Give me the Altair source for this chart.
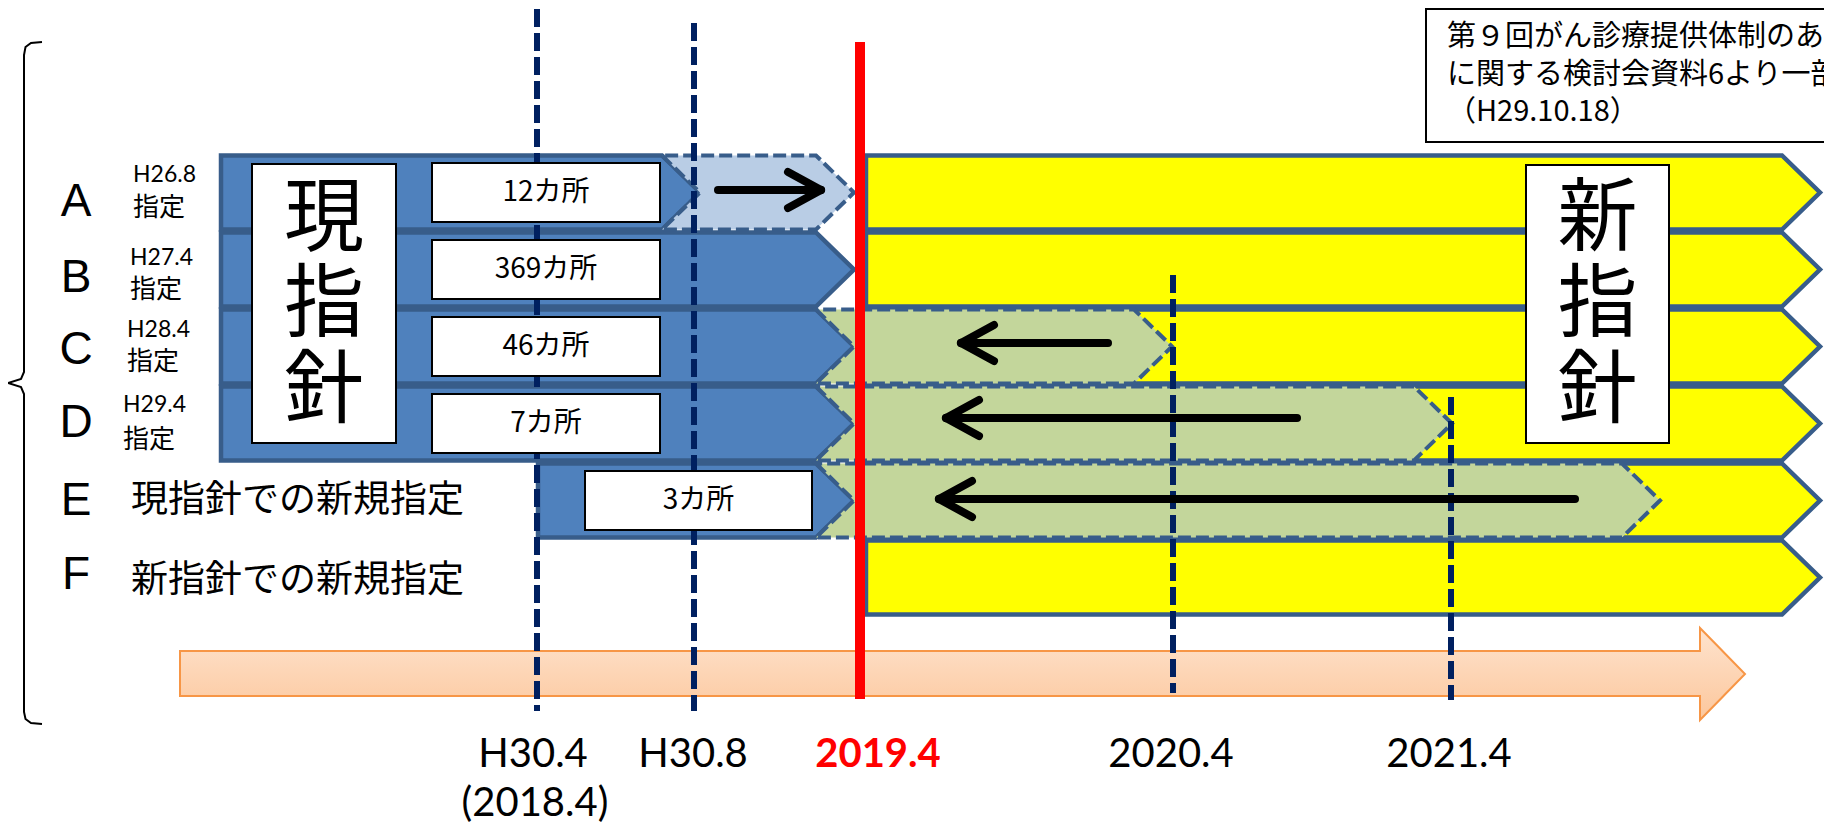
import altair as alt
import pandas as pd

# ---------------- chart content ----------------
ROW_LETTERS = ["A", "B", "C", "D", "E", "F"]
DESIGNATED = ["H26.8", "H27.4", "H28.4", "H29.4"]          # rows A-D
DESIGNATED_WORD = "指定"
NEW_ROW_LABELS = ["現指針での新規指定", "新指針での新規指定"]  # rows E, F
COUNTS = ["12カ所", "369カ所", "46カ所", "7カ所", "3カ所"]     # rows A-E
OLD_GUIDE = ["現", "指", "針"]
NEW_GUIDE = ["新", "指", "針"]
MILESTONES = ["H30.4", "H30.8", "2019.4", "2020.4", "2021.4"]
MILESTONE_NOTE = "(2018.4)"
SOURCE_NOTE = ["第９回がん診療提供体制のあり方", "に関する検討会資料6より一部改変", "（H29.10.18）"]

# ---------------- layout (schematic coordinates) ----------------
W, H = 1816, 820
XS = alt.Scale(domain=[8, 8 + W], nice=False, zero=False)
YS = alt.Scale(domain=[8, 8 + H], nice=False, zero=False, reverse=True)

MS_X = [537, 694, 860, 1173, 1451]       # timeline position of each milestone
MS_LABEL_X = [533, 693, 878, 1171, 1449]
ROW_TOP0, PITCH, TIP, INSET = 154, 77, 38, 1.5


def top(i):
    return ROW_TOP0 + PITCH * i


def mid(i):
    return top(i) + PITCH / 2


# (row, style, left, right corner, notched left side)
SEGMENTS = (
    [(i, "yellow", 866, 1782, False) for i in range(6)]
    + [(0, "blue", 221, 662, False), (1, "blue", 221, 816, False),
       (2, "blue", 221, 816, False), (3, "blue", 221, 816, False),
       (4, "blue", 538, 816, False)]
    + [(0, "light", 662, 816, True)]
    + [(2, "green", 816, 1134, True), (3, "green", 816, 1414, True),
       (4, "green", 816, 1622, True)]
)

pts = []
for k, (r, style, l, rc, notch) in enumerate(SEGMENTS):
    pts.append(dict(sid=k, style=style, y=top(r) + INSET, x=l, x2=rc))
    pts.append(dict(sid=k, style=style, y=mid(r), x=l + (TIP if notch else 0), x2=rc + TIP))
    pts.append(dict(sid=k, style=style, y=top(r) + PITCH - INSET, x=l, x2=rc))
shape_df = pd.DataFrame(pts)


def xq(field="x"):
    return alt.X(f"{field}:Q", scale=XS, axis=None, stack=None)


def yq(field="y"):
    return alt.Y(f"{field}:Q", scale=YS, axis=None, stack=None)


def area_layer(style, fill, dash=None, sw=4):
    kw = dict(orient="horizontal", fill=fill, stroke="#385d8a", strokeWidth=sw, opacity=1)
    if dash:
        kw["strokeDash"] = dash
    return alt.Chart(shape_df[shape_df["style"] == style]).mark_area(**kw).encode(
        x=xq(), x2="x2:Q", y=yq(), detail="sid:N")


yellow = area_layer("yellow", "#ffff00", sw=4.5)
blue = area_layer("blue", "#4f81bd", sw=4.5)
light = area_layer("light", "#b9cde5", dash=[13, 5], sw=4)
green = area_layer("green", "#c3d69b", dash=[13, 5], sw=4)

# big orange timeline arrow
AR_L, AR_BODY_END, AR_TIP = 180, 1700, 1745
AR_T, AR_B, AR_HT, AR_HB = 651, 696, 628, 720
AR_MID = (AR_HT + AR_HB) / 2


def head_x(y):
    return AR_BODY_END + (AR_TIP - AR_BODY_END) * (1 - abs(y - AR_MID) / (AR_MID - AR_HT))


arrow_df = pd.DataFrame([
    dict(y=AR_HT, x=AR_BODY_END, x2=AR_BODY_END),
    dict(y=AR_T, x=AR_BODY_END, x2=head_x(AR_T)),
    dict(y=AR_T + 0.001, x=AR_L, x2=head_x(AR_T)),
    dict(y=AR_MID, x=AR_L, x2=AR_TIP),
    dict(y=AR_B, x=AR_L, x2=head_x(AR_B)),
    dict(y=AR_B + 0.001, x=AR_BODY_END, x2=head_x(AR_B)),
    dict(y=AR_HB, x=AR_BODY_END, x2=AR_BODY_END),
])
orange = alt.Chart(arrow_df).mark_area(
    orient="horizontal", stroke="#f79646", strokeWidth=2,
    fill=alt.Gradient(gradient="linear", x1=0, x2=0, y1=0, y2=1,
                      stops=[alt.GradientStop(offset=0, color="#fee3ce"),
                             alt.GradientStop(offset=1, color="#fcc79c")]),
).encode(x=xq(), x2="x2:Q", y=yq())

# dashed milestone lines
dash_df = pd.DataFrame(dict(
    x=[MS_X[0], MS_X[1], MS_X[3], MS_X[4]],
    y=[9, 23, 275, 397],
    y2=[711, 711, 693, 700],
))
dashed = alt.Chart(dash_df).mark_rule(
    color="#002060", strokeWidth=6, strokeDash=[18, 6]
).encode(x=xq(), y=yq(), y2="y2:Q")

red_df = pd.DataFrame(dict(x=[MS_X[2]], y=[42], y2=[699]))
red = alt.Chart(red_df).mark_rule(color="#ff0000", strokeWidth=10).encode(
    x=xq(), y=yq(), y2="y2:Q")

# white boxes
box_rows = []
for i, c in enumerate(COUNTS):
    l, r = (432, 660) if i < 4 else (585, 812)
    box_rows.append(dict(x=l, x2=r, y=mid(i) - 29.5, y2=mid(i) + 29.5, tx=(l + r) / 2, ty=mid(i), t=c))
count_df = pd.DataFrame(box_rows)
guide_box_df = pd.DataFrame(dict(x=[252, 1526], x2=[396, 1669], y=[164, 165], y2=[443, 443]))

boxes = alt.Chart(pd.concat([count_df[["x", "x2", "y", "y2"]], guide_box_df])).mark_rect(
    fill="white", stroke="black", strokeWidth=2).encode(x=xq(), x2="x2:Q", y=yq(), y2="y2:Q")

count_text = alt.Chart(count_df).mark_text(
    font="Noto Sans CJK JP", fontSize=28, color="black", baseline="middle", align="center"
).encode(x=xq("tx"), y=yq("ty"), text="t:N")

guide_chars = []
for k, ch in enumerate(OLD_GUIDE):
    guide_chars.append(dict(x=324, y=220 + 86 * k, t=ch))
for k, ch in enumerate(NEW_GUIDE):
    guide_chars.append(dict(x=1597.5, y=220 + 86 * k, t=ch))
guide_text = alt.Chart(pd.DataFrame(guide_chars)).mark_text(
    font="Noto Sans CJK JP", fontSize=80, color="black", baseline="middle", align="center"
).encode(x=xq(), y=yq(), text="t:N")

# black arrows inside the bars: (tail, tip, y)
ARROWS = [(718, 821, 190), (1108, 961, 343), (1297, 946, 418), (1575, 939, 499)]
seg = []
for tail, tip, y in ARROWS:
    d = 1 if tip > tail else -1
    seg.append(dict(x=tail, x2=tip, y=y, y2=y))
    seg.append(dict(x=tip, x2=tip - d * 33, y=y, y2=y - 18))
    seg.append(dict(x=tip, x2=tip - d * 33, y=y, y2=y + 18))
arrows = alt.Chart(pd.DataFrame(seg)).mark_rule(
    color="black", strokeWidth=8, strokeCap="round").encode(
    x=xq(), x2="x2:Q", y=yq(), y2="y2:Q")

# left brace
brace_pts = [(42, 42), (31, 43), (25.5, 47), (24, 55), (24, 372), (21, 379), (8, 383),
             (21, 387), (24, 394), (24, 712), (25.5, 719), (31, 723), (42, 724)]
brace_df = pd.DataFrame([dict(x=a, y=b, o=k) for k, (a, b) in enumerate(brace_pts)])
brace = alt.Chart(brace_df).mark_line(color="black", strokeWidth=2).encode(
    x=xq(), y=yq(), order="o:Q")

# row letters and labels
letter_df = pd.DataFrame(dict(x=[76] * 6, y=[202, 278, 350, 423, 501, 575], t=ROW_LETTERS))
letters = alt.Chart(letter_df).mark_text(
    font="Liberation Sans", fontSize=46, color="black", baseline="middle", align="center"
).encode(x=xq(), y=yq(), text="t:N")

date_df = pd.DataFrame(dict(x=[133, 130, 127, 123], y=[175, 258, 330, 405], t=DESIGNATED))
dates = alt.Chart(date_df).mark_text(
    font="Lato", fontSize=23, color="black", baseline="middle", align="left"
).encode(x=xq(), y=yq(), text="t:N")

word_df = pd.DataFrame(dict(x=[133, 130, 127, 123], y=[208, 290, 362, 440], t=[DESIGNATED_WORD] * 4))
words = alt.Chart(word_df).mark_text(
    font="Noto Sans CJK JP", fontSize=26, color="black", baseline="middle", align="left"
).encode(x=xq(), y=yq(), text="t:N")

long_df = pd.DataFrame(dict(x=[131, 131], y=[501, 581], t=NEW_ROW_LABELS))
longs = alt.Chart(long_df).mark_text(
    font="Noto Sans CJK JP", fontSize=37, color="black", baseline="middle", align="left"
).encode(x=xq(), y=yq(), text="t:N")

# milestone labels
ms_df = pd.DataFrame(dict(x=MS_LABEL_X, y=[755] * 5, t=MILESTONES,
                          w=["normal", "normal", "bold", "normal", "normal"]))
ms_normal = alt.Chart(ms_df[ms_df["w"] == "normal"]).mark_text(
    font="Lato", fontSize=40, color="black", baseline="middle", align="center"
).encode(x=xq(), y=yq(), text="t:N")
ms_bold = alt.Chart(ms_df[ms_df["w"] == "bold"]).mark_text(
    font="Lato", fontSize=40, fontWeight="bold", color="#ff0000", baseline="middle", align="center"
).encode(x=xq(), y=yq(), text="t:N")
note_df = pd.DataFrame(dict(x=[535], y=[804], t=[MILESTONE_NOTE]))
note = alt.Chart(note_df).mark_text(
    font="Lato", fontSize=40, color="black", baseline="middle", align="center"
).encode(x=xq(), y=yq(), text="t:N")

# source box (top right, running off the page)
src_box_df = pd.DataFrame(dict(x=[1426], x2=[1960], y=[9], y2=[142]))
src_box = alt.Chart(src_box_df).mark_rect(
    fill="white", stroke="black", strokeWidth=2, clip=True).encode(
    x=xq(), x2="x2:Q", y=yq(), y2="y2:Q")
src_df = pd.DataFrame(dict(x=[1447] * 3, y=[37, 75, 112], t=SOURCE_NOTE))
src_text = alt.Chart(src_df).mark_text(
    font="Noto Sans CJK JP", fontSize=29, color="black", baseline="middle", align="left", clip=True
).encode(x=xq(), y=yq(), text="t:N")

chart = alt.layer(
    yellow, orange, blue, light, green, dashed, boxes, count_text, guide_text,
    arrows, red, brace, letters, dates, words, longs, ms_normal, ms_bold, note,
    src_box, src_text,
).properties(
    width=W, height=H, padding=0, autosize="none", background="white"
).configure_view(stroke=None)

chart.save("out.html", embed_options={"renderer": "svg", "actions": False})
